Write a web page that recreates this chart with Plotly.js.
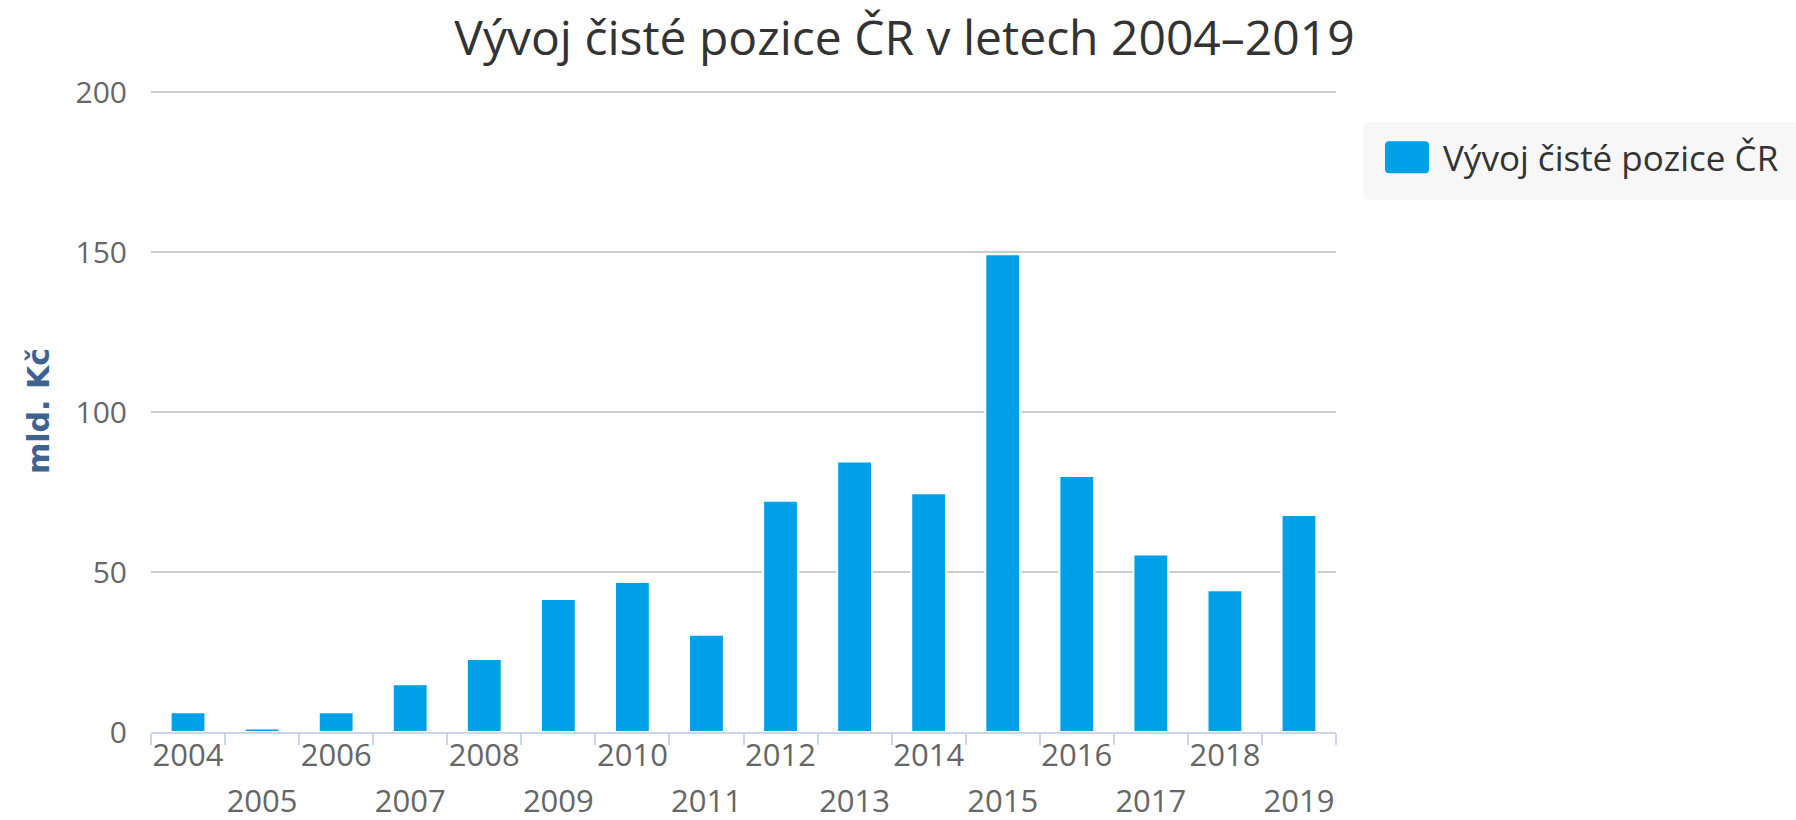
<!DOCTYPE html>
<html>
<head>
<meta charset="utf-8">
<script src="https://cdn.plot.ly/plotly-3.0.1.min.js"></script>
<style>
  html, body { margin: 0; padding: 0; background: #ffffff; }
  #chart { width: 1796px; height: 820px; }
</style>
</head>
<body>
<div id="chart"></div>
<script>
// ---- data ----
const years = ["2004","2005","2006","2007","2008","2009","2010","2011","2012","2013","2014","2015","2016","2017","2018","2019"];
const values = [6.2, 1.1, 6.2, 14.9, 22.8, 41.6, 46.9, 30.4, 72.3, 84.5, 74.6, 149.3, 80.0, 55.5, 44.3, 67.8];
const seriesName = "Vývoj čisté pozice ČR";
const chartTitle = "Vývoj čisté pozice ČR v letech 2004–2019";
const yTitle = "mld. Kč";
const yTicks = [0, 50, 100, 150, 200];

// staggered labels: even years on the first row, odd years on the second row
const tickLabels = years.map((y, i) =>
  (i % 2 === 1 ? "<br>" : "") + '<span style="font-size:31px">' + y + "</span>");

const FONT = "'Open Sans', 'DejaVu Sans', sans-serif";

const trace = {
  type: "bar",
  x: years,
  y: values,
  name: seriesName,
  marker: { color: "#00A0E9", line: { color: "#ffffff", width: 2 } },
  showlegend: true,
  hoverinfo: "x+y"
};

// plot area (pixels) — y range padded slightly so the 200 gridline is not clipped
const L = 151, R = 1336, T = 90, B = 732;
const pw = R - L, ph = B - T;
const yMax = 200 * ph / 640;
function px(x) { return (x - L) / pw; }
function py(y) { return (B - y) / ph; }
const bx0 = 1363, bx1 = 1810, by0 = 122, by1 = 200, rr = 8;
const legendPath =
  `M${px(bx0 + rr)},${py(by0)} L${px(bx1)},${py(by0)} L${px(bx1)},${py(by1)} L${px(bx0 + rr)},${py(by1)} ` +
  `Q${px(bx0)},${py(by1)} ${px(bx0)},${py(by1 - rr)} L${px(bx0)},${py(by0 + rr)} Q${px(bx0)},${py(by0)} ${px(bx0 + rr)},${py(by0)} Z`;

const layout = {
  width: 1796,
  height: 820,
  margin: { l: L, r: 1796 - R, t: T, b: 820 - B, pad: 0 },
  paper_bgcolor: "#ffffff",
  plot_bgcolor: "#ffffff",
  font: { family: FONT, color: "#666666" },
  title: {
    text: chartTitle,
    font: { family: FONT, size: 48, color: "#333333" },
    xref: "container", yref: "container",
    x: 0.5036, xanchor: "center",
    y: 1 - 38 / 820, yanchor: "middle"
  },
  bargap: 0.53,
  xaxis: {
    type: "category",
    categoryorder: "array",
    categoryarray: years,
    tickmode: "array",
    tickvals: years,
    ticktext: tickLabels,
    tickangle: 0,
    tickson: "boundaries",
    ticks: "outside",
    ticklen: 11,
    tickwidth: 2,
    tickcolor: "#ccd6eb",
    showline: true,
    linecolor: "#ccd6eb",
    linewidth: 2,
    showgrid: false,
    zeroline: false,
    tickfont: { family: FONT, size: 35, color: "#666666" },
    ticklabelstandoff: -10,
    range: [-0.5, years.length - 0.5],
    fixedrange: true
  },
  yaxis: {
    range: [0, yMax],
    tickmode: "array",
    tickvals: yTicks,
    ticks: "",
    showline: false,
    zeroline: false,
    showgrid: true,
    gridcolor: "#cccccc",
    gridwidth: 2,
    tickfont: { family: FONT, size: 30, color: "#666666" },
    ticklabelstandoff: 23,
    title: {
      text: yTitle,
      font: { family: "'DejaVu Sans', sans-serif", size: 30, color: "#3f6390", weight: "bold" },
      standoff: 17
    },
    automargin: false,
    fixedrange: true
  },
  showlegend: true,
  legend: {
    xref: "container", yref: "container",
    x: 1371 / 1796, xanchor: "left",
    y: 1 - 128 / 820, yanchor: "top",
    bgcolor: "rgba(0,0,0,0)",
    borderwidth: 0,
    itemwidth: 62,
    font: { family: FONT, size: 35, color: "#333333" }
  },
  shapes: [
    {
      type: "path",
      xref: "paper", yref: "paper",
      path: legendPath,
      fillcolor: "#f7f7f7",
      line: { width: 0 },
      layer: "below"
    }
  ]
};

Plotly.newPlot("chart", [trace], layout, { displayModeBar: false }).then(gd => {
  // enlarge legend symbol to a rounded rectangle like the reference
  const p = gd.querySelector(".legend .legendpoints path");
  if (p) {
    p.setAttribute("d", "M-18,-16H18Q22,-16 22,-12V12Q22,16 18,16H-18Q-22,16 -22,12V-12Q-22,-16 -18,-16Z");
    p.style.strokeWidth = "0px";
  }
});
</script>
</body>
</html>
